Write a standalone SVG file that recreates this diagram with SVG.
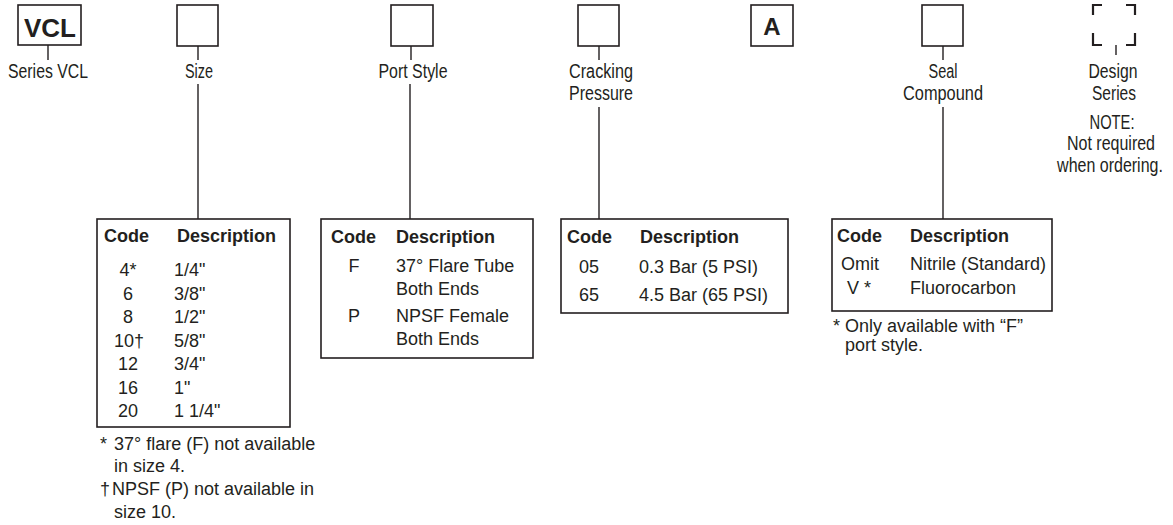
<svg xmlns="http://www.w3.org/2000/svg" width="1173" height="525" viewBox="0 0 1173 525">
<style>
.bx{fill:#fff;stroke:#231f20;stroke-width:1.6}
.cn{stroke:#231f20;stroke-width:1.4;fill:none}
.lb{font-family:"Liberation Sans Narrow","Liberation Sans",sans-serif;font-size:20px;fill:#231f20;text-anchor:middle}
.t{font-family:"Liberation Sans",Arial,sans-serif;font-size:18px;fill:#231f20}
.h{font-weight:bold}
.m{text-anchor:middle}
.big{font-family:"Liberation Sans",Arial,sans-serif;font-weight:bold;fill:#231f20;text-anchor:middle}
</style>
<rect width="1173" height="525" fill="#fff"/>
<g id="connectors">
<line class="cn" x1="48" y1="45" x2="48" y2="60"/>
<line class="cn" x1="198" y1="46" x2="198" y2="60"/>
<line class="cn" x1="411" y1="46" x2="411" y2="60"/>
<line class="cn" x1="599" y1="46" x2="599" y2="60"/>
<line class="cn" x1="943" y1="46" x2="943" y2="60"/>
<line class="cn" x1="1116" y1="45" x2="1116" y2="55"/>
<line class="cn" x1="198" y1="84" x2="198" y2="219"/>
<line class="cn" x1="410" y1="84" x2="410" y2="219"/>
<line class="cn" x1="599" y1="107" x2="599" y2="219"/>
<line class="cn" x1="943" y1="107" x2="943" y2="219"/>
</g>
<g id="series">
<rect class="bx" x="18" y="5" width="63" height="40" stroke-width="2"/>
<text class="big" x="50" y="37" font-size="26">VCL</text>
<text class="lb" x="48" y="78" textLength="80" lengthAdjust="spacingAndGlyphs">Series VCL</text>
</g>
<g id="size">
<rect class="bx" x="177" y="5" width="41" height="41"/>
<text class="lb" x="199" y="78" textLength="28" lengthAdjust="spacingAndGlyphs">Size</text>
</g>
<g id="port">
<rect class="bx" x="391" y="5" width="42" height="41"/>
<text class="lb" x="413" y="78" textLength="69" lengthAdjust="spacingAndGlyphs">Port Style</text>
</g>
<g id="cracking">
<rect class="bx" x="578" y="5" width="41" height="41"/>
<text class="lb" x="601" y="78" textLength="64" lengthAdjust="spacingAndGlyphs">Cracking</text>
<text class="lb" x="601" y="100" textLength="64" lengthAdjust="spacingAndGlyphs">Pressure</text>
</g>
<g id="fixed-a">
<rect class="bx" x="751" y="5" width="42" height="41"/>
<text class="big" x="772" y="35" font-size="24">A</text>
</g>
<g id="seal">
<rect class="bx" x="922" y="5" width="41" height="41"/>
<text class="lb" x="943" y="78" textLength="29" lengthAdjust="spacingAndGlyphs">Seal</text>
<text class="lb" x="943" y="100" textLength="80" lengthAdjust="spacingAndGlyphs">Compound</text>
</g>
<g id="design">
<path d="M1093,15 V5 H1102 M1126,5 H1135 V15 M1093,33 V45 H1102 M1126,45 H1135 V33" fill="none" stroke="#231f20" stroke-width="2.2"/>
<text class="lb" x="1113" y="78" textLength="49" lengthAdjust="spacingAndGlyphs">Design</text>
<text class="lb" x="1114" y="100" textLength="44" lengthAdjust="spacingAndGlyphs">Series</text>
<text class="lb" x="1112" y="129" textLength="45" lengthAdjust="spacingAndGlyphs">NOTE:</text>
<text class="lb" transform="translate(1111,150) scale(0.8,1)" x="0" y="0">Not required</text>
<text class="lb" transform="translate(1110,172) scale(0.8,1)" x="0" y="0">when ordering.</text>
</g>
<g id="size-table">
<rect class="bx" x="97" y="219" width="193" height="208"/>
<text class="t h" x="104" y="242">Code</text>
<text class="t h" x="177" y="242">Description</text>
<text class="t m" x="128" y="276">4*</text><text class="t" x="174" y="276">1/4"</text>
<text class="t m" x="128" y="299.5">6</text><text class="t" x="174" y="299.5">3/8"</text>
<text class="t m" x="128" y="323">8</text><text class="t" x="174" y="323">1/2"</text>
<text class="t m" x="129" y="346.5">10†</text><text class="t" x="174" y="346.5">5/8"</text>
<text class="t m" x="128" y="370">12</text><text class="t" x="174" y="370">3/4"</text>
<text class="t m" x="128" y="393.5">16</text><text class="t" x="174" y="393.5">1"</text>
<text class="t m" x="128" y="417">20</text><text class="t" x="174" y="417">1 1/4"</text>
<text class="t" x="100" y="450">*</text><text class="t" x="114" y="450">37° flare (F) not available</text>
<text class="t" x="114" y="472">in size 4.</text>
<text class="t" x="100" y="495">†</text><text class="t" x="112" y="495">NPSF (P) not available in</text>
<text class="t" x="114" y="518">size 10.</text>
</g>
<g id="port-table">
<rect class="bx" x="321" y="219" width="212" height="139"/>
<text class="t h" x="331" y="243">Code</text>
<text class="t h" x="396" y="243">Description</text>
<text class="t m" x="354" y="272">F</text><text class="t" x="396" y="272">37° Flare Tube</text>
<text class="t" x="396" y="295">Both Ends</text>
<text class="t m" x="354" y="322">P</text><text class="t" x="396" y="322">NPSF Female</text>
<text class="t" x="396" y="345">Both Ends</text>
</g>
<g id="cracking-table">
<rect class="bx" x="561" y="219" width="227" height="94"/>
<text class="t h" x="567" y="243">Code</text>
<text class="t h" x="640" y="243">Description</text>
<text class="t m" x="589" y="273">05</text><text class="t" x="639" y="273">0.3 Bar (5 PSI)</text>
<text class="t m" x="589" y="301">65</text><text class="t" x="639" y="301">4.5 Bar (65 PSI)</text>
</g>
<g id="seal-table">
<rect class="bx" x="832" y="219" width="220" height="92"/>
<text class="t h" x="837" y="242">Code</text>
<text class="t h" x="910" y="242">Description</text>
<text class="t m" x="860" y="270">Omit</text><text class="t" x="910" y="270">Nitrile (Standard)</text>
<text class="t m" x="859" y="294">V *</text><text class="t" x="910" y="294">Fluorocarbon</text>
<text class="t" x="833" y="332">*</text><text class="t" x="845" y="332">Only available with “F”</text>
<text class="t" x="845" y="351">port style.</text>
</g>
</svg>
